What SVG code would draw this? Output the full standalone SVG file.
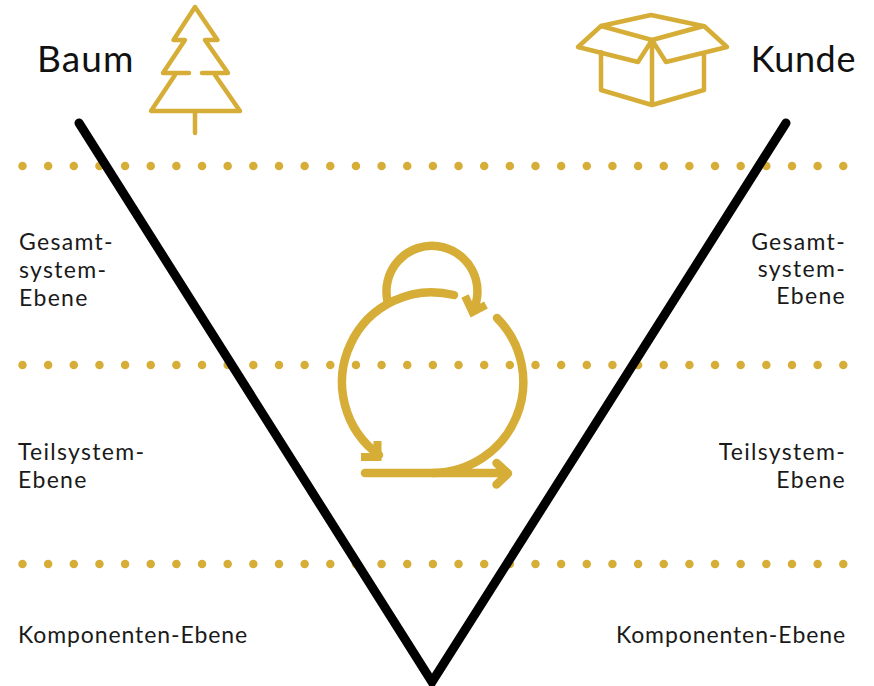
<svg xmlns="http://www.w3.org/2000/svg" width="874" height="686" viewBox="0 0 874 686">
<style>
.t{font-family:Lato,"Open Sans",sans-serif;font-size:23px;fill:#1a1a1a;letter-spacing:1.300px}
.k{letter-spacing:.9px}
.h{font-size:37px;fill:#111;letter-spacing:1.100px}
.e{text-anchor:end}
.g{fill:none;stroke:#d6ae37;stroke-linecap:round;stroke-linejoin:round}
.d{fill:none;stroke:#d6ae37;stroke-width:8.500;stroke-linecap:round;stroke-dasharray:0 25.65}
</style>
<rect width="874" height="686" fill="#fff"/>
<g id="connectors">
<path d="M22.500 166H844M22.500 365H844M22.500 564H844" class="d"/>
<path d="M79 123L432 682L786 123" fill="none" stroke="#000" stroke-width="9" stroke-linecap="round" stroke-linejoin="miter"/>
</g>
<g id="tree" class="g" stroke-width="4.500">
<path d="M189 73H163L185 40H173.500L195 7L217.500 40H205L228 73H202M175 75L151 111H240L215 75M195 113V133"/>
</g>
<g id="box" class="g" stroke-width="4.500">
<path d="M652 40L601 26L651 15L703 26L652 40L704 26L727 47L666 62L652 40L638 62L578 47L601 26M601 52V90L652 105L704 90V55M652 40V105"/>
</g>
<g id="cycle">
<g class="g" stroke-width="8.500">
<path d="M387.500 301A45.500 45.500 0 1 1 472.500 312" stroke-linecap="butt"/>
<path d="M454 295A90 90 0 0 0 379 455"/>
<path d="M497 318A91 91 0 0 1 432.500 473"/>
<path d="M365 473H505M496.500 463L508 473.500L496.500 484.500"/>
</g>
<path d="M465 296L472.500 312L486 305M377.500 441V457H361" fill="none" stroke="#d6ae37" stroke-width="8"/>
</g>
<g id="left-labels">
<text class="t h" x="37" y="72">Baum</text>
<text class="t" x="19" y="250">Gesamt-</text>
<text class="t" x="19" y="278">system-</text>
<text class="t" x="19" y="306">Ebene</text>
<text class="t" x="18" y="460">Teilsystem-</text>
<text class="t" x="18" y="488">Ebene</text>
<text class="t k" x="18" y="643">Komponenten-Ebene</text>
</g>
<g id="right-labels">
<text class="t h e" x="856" y="72" style="font-size:36px;letter-spacing:.6px">Kunde</text>
<text class="t e" x="846" y="250">Gesamt-</text>
<text class="t e" x="846" y="277">system-</text>
<text class="t e" x="846" y="304">Ebene</text>
<text class="t e" x="846" y="460">Teilsystem-</text>
<text class="t e" x="846" y="488">Ebene</text>
<text class="t k e" x="846" y="643">Komponenten-Ebene</text>
</g>
</svg>
